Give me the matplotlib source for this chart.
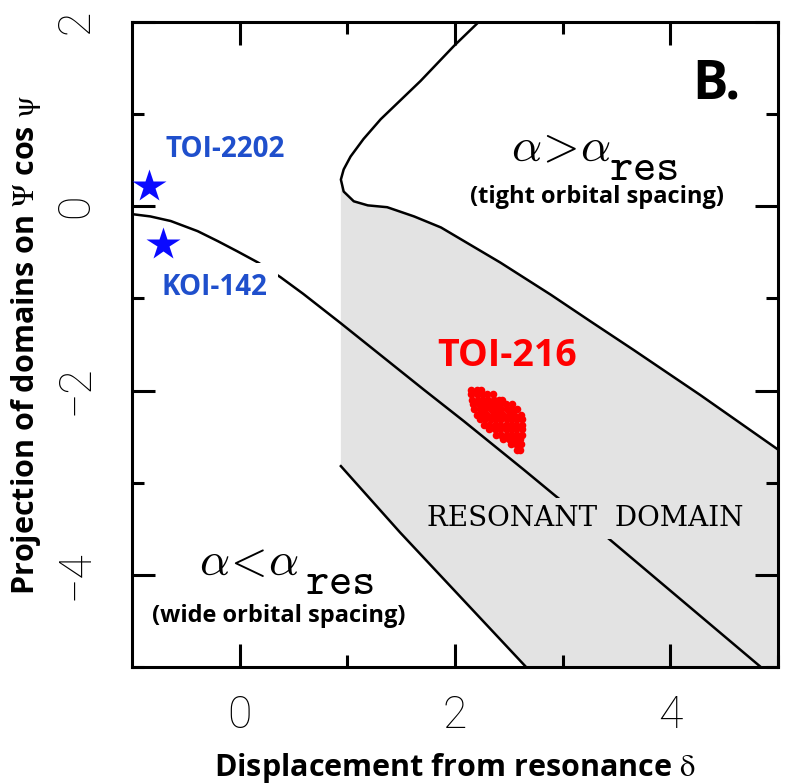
import numpy as np
import matplotlib
matplotlib.use('Agg')
import matplotlib.pyplot as plt

# separatrix curves (delta, Psi cos psi)
upper_x = [2.22, 1.99, 1.68, 1.31, 1.15, 1.03, 0.966, 0.94, 0.966, 1.06, 1.19, 1.37, 1.62, 1.87, 2.42, 2.89, 3.26, 3.66, 4.28, 5.00]
upper_y = [2.00, 1.74, 1.36, 0.945, 0.73, 0.54, 0.40, 0.29, 0.16, 0.054, 0.01, -0.01, -0.11, -0.23, -0.61, -0.96, -1.25, -1.56, -2.05, -2.64]
mid_x = [-1.00, -0.83, -0.64, -0.39, -0.20, -0.02, 0.17, 0.38, 0.59, 0.94, 1.40, 1.71, 2.08, 2.64, 2.93, 3.38, 4.84]
mid_y = [-0.085, -0.11, -0.16, -0.27, -0.38, -0.49, -0.61, -0.77, -0.95, -1.27, -1.70, -1.99, -2.33, -2.86, -3.14, -3.56, -5.00]
edge_x = [0.94, 1.49, 2.66]
edge_y = [-2.82, -3.54, -5.00]
cusp = 7

# planets
star_x = [-0.845, -0.715]
star_y = [0.22, -0.41]

# TOI-216 posterior cloud, rows of y with their x samples
blob_rows = [
    (-1.99, [2.15, 2.20, 2.24]),
    (-2.04, [2.15, 2.20, 2.25, 2.30, 2.35]),
    (-2.10, [2.16, 2.21, 2.26, 2.31, 2.36, 2.41, 2.44]),
    (-2.15, [2.17, 2.22, 2.27, 2.32, 2.37, 2.42, 2.47, 2.53]),
    (-2.20, [2.18, 2.23, 2.28, 2.33, 2.38, 2.43, 2.48, 2.53, 2.58]),
    (-2.26, [2.20, 2.25, 2.30, 2.35, 2.40, 2.45, 2.50, 2.55, 2.61]),
    (-2.31, [2.23, 2.28, 2.33, 2.38, 2.43, 2.48, 2.53, 2.58, 2.62]),
    (-2.37, [2.27, 2.32, 2.37, 2.42, 2.47, 2.52, 2.57, 2.62]),
    (-2.42, [2.32, 2.37, 2.42, 2.47, 2.52, 2.57, 2.62]),
    (-2.48, [2.38, 2.43, 2.48, 2.53, 2.58, 2.62]),
    (-2.53, [2.45, 2.50, 2.55, 2.60]),
    (-2.58, [2.52, 2.57, 2.61]),
    (-2.64, [2.58, 2.60]),
]
blob_x = [x for y, xs in blob_rows for x in xs]
blob_y = [y for y, xs in blob_rows for x in xs]

xticks = [0, 2, 4]
yticks = [-4, -2, 0, 2]

gray = '#e3e3e3'
bold = 'Open Sans'

fig = plt.figure(figsize=(7.95, 7.84), dpi=100)
ax = fig.add_axes([132/795, 117/784, 646/795, 645/784])

px = np.concatenate([upper_x[cusp:], [5.0], edge_x[::-1]])
py = np.concatenate([upper_y[cusp:], [-5.0], edge_y[::-1]])
ax.fill(px, py, color=gray, lw=0, zorder=0)

ax.plot(upper_x, upper_y, color='k', lw=1.8, zorder=2, solid_joinstyle='round')
ax.plot(mid_x, mid_y, color='k', lw=1.8, zorder=2, solid_joinstyle='round')
ax.plot(edge_x, edge_y, color='k', lw=1.8, zorder=2)

ax.scatter(blob_x, blob_y, s=30, color='#ff0000', lw=0, zorder=3)
ax.plot(star_x, star_y, '*', color='#0a0aff', ms=25, mec='none', zorder=6)

ax.set_xlim(-1, 5)
ax.set_ylim(-5, 2)
ax.set_xticks(xticks)
ax.set_yticks(yticks)
ax.set_xticks([1, 3, 5], minor=True)
ax.set_yticks([-5, -3, -1, 1], minor=True)
ax.tick_params(which='both', direction='in', top=True, right=True, width=2.2, color='k')
ax.tick_params(which='major', length=16.5)
ax.tick_params(which='minor', length=8.5)
ax.tick_params(axis='x', pad=20, labelsize=32)
ax.tick_params(axis='y', pad=25, labelsize=32, labelrotation=90)
for lab in ax.get_xticklabels() + ax.get_yticklabels():
    lab.set_family('Roboto')
    lab.set_weight('light')
for lab in ax.get_yticklabels():
    lab.set_va('center')
for s in ax.spines.values():
    s.set_linewidth(2.2)

ax.set_xlabel(r'Displacement from resonance $\mathrm{\delta}$', fontsize=22,
              family=bold, weight='bold', math_fontfamily='stix')
ax.xaxis.set_label_coords(0.5, -0.13)
ax.set_ylabel(r'Projection of domains on $\mathrm{\Psi}$ cos $\mathrm{\psi}$', fontsize=22,
              family=bold, weight='bold', math_fontfamily='stix')
ax.yaxis.set_label_coords(-0.138, 0.5)

ax.text(4.43, 1.32, 'B.', fontsize=38, family=bold, weight='bold', ha='center', va='center')
ax.text(2.52, 0.49, r'$\alpha\!>\!\alpha$', fontsize=34, math_fontfamily='cm', ha='left', va='baseline')
ax.text(3.43, 0.29, r'$\mathtt{res}$', fontsize=32, math_fontfamily='cm', ha='left', va='baseline')
ax.text(3.32, 0.10, '(tight orbital spacing)', fontsize=17, family=bold, weight='bold', ha='center', va='center')
ax.text(-0.38, -4.00, r'$\alpha\!<\!\alpha$', fontsize=34, math_fontfamily='cm', ha='left', va='baseline')
ax.text(0.61, -4.21, r'$\mathtt{res}$', fontsize=32, math_fontfamily='cm', ha='left', va='baseline')
ax.text(0.36, -4.45, '(wide orbital spacing)', fontsize=17, family=bold, weight='bold', ha='center', va='center')

ax.text(3.21, -3.39, 'RESONANT  DOMAIN', fontsize=20, family='DejaVu Serif', ha='center', va='center',
        bbox=dict(facecolor=gray, edgecolor='none', pad=5), zorder=4)
ax.text(2.48, -1.62, 'TOI-216', fontsize=27, family=bold, weight='bold', color='#ff0000', ha='center', va='center')
ax.text(-0.13, 0.62, 'TOI-2202', fontsize=20, family=bold, weight='bold', color='#1f4fcc', ha='center', va='center')
ax.text(-0.23, -0.88, 'KOI-142', fontsize=20, family=bold, weight='bold', color='#1f4fcc', ha='center', va='center',
        bbox=dict(facecolor='white', edgecolor='none', pad=7), zorder=5)

fig.savefig('out.png', dpi=100)
